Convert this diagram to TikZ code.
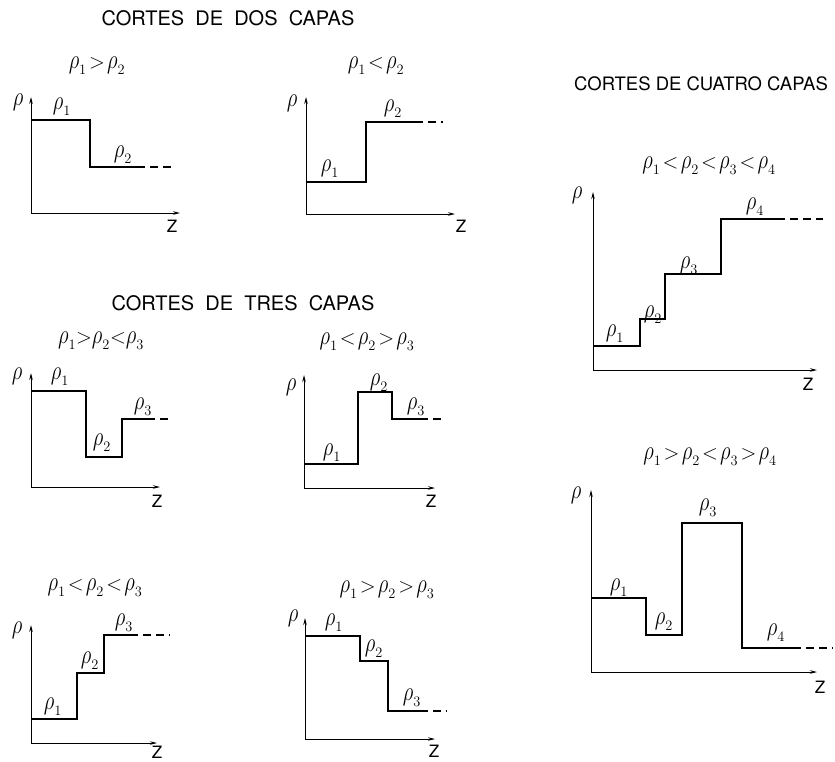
\documentclass[tikz,border=0pt]{standalone}
\usepackage{fontspec}
\setmainfont{TeX Gyre Heros}
\usepackage{tikz}
\usetikzlibrary{arrows.meta,positioning}
\newcommand{\crho}{\mathord{\scalebox{1}[1.3]{$\rho$}}}
\newcommand{\crel}[1]{$\thickmuskip=2mu #1$}
\tikzset{
  cthead/.style={font=\fontsize{20}{22}\selectfont, inner sep=0pt},
  ctrel/.style={font=\fontsize{21}{23}\selectfont, inner sep=0pt},
  ctlab/.style={font=\fontsize{20}{22}\selectfont, inner sep=0pt},
  ctz/.style={font=\fontsize{17}{19}\selectfont, inner sep=0pt},
  ctaxis/.style={-{Stealth[length=7pt,width=3.5pt]}, line width=0.75pt},
  ctstep/.style={line width=1.8pt},
  cttail/.style={line width=1.8pt, dash pattern=on 8pt off 5pt}
}
\begin{document}
\begin{tikzpicture}[x=1pt,y=-1pt]
\useasboundingbox (0,0) rectangle (835,761);
\node[cthead] (dos) at (228,18) {CORTES\ \ DE\ \ DOS\ \ CAPAS};
\node[cthead] (tres) at (243,303) {CORTES\ \ DE\ \ TRES\ \ CAPAS};
\node[cthead, font=\fontsize{18.5}{20}\selectfont] (cuatro) at (701,84) {CORTES DE CUATRO CAPAS};

\node[ctrel] (ra) at (97,66) {\crel{\crho_1>\crho_2}};
\coordinate (oa) at (31,213);
\draw[ctaxis] (oa) -- (31,97);
\draw[ctaxis] (oa) -- (180,213);
\node[ctlab] (ya) at (18,102) {$\crho$};
\node[ctz] (za) at (172,226) {Z};
\draw[ctstep] (31,120) -- (90,120) -- (90,167) -- (137,167);
\draw[cttail] (137,167) -- (172,167);
\node[ctlab] (a1) at (62,107) {$\crho_1$};
\node[ctlab] (a2) at (123,155) {$\crho_2$};

\node[ctrel] (rb) at (376,66) {\crel{\crho_1<\crho_2}};
\coordinate (ob) at (306,214);
\draw[ctaxis] (ob) -- (306,97);
\draw[ctaxis] (ob) -- (455,214);
\node[ctlab] (yb) at (292,103) {$\crho$};
\node[ctz] (zb) at (461,226) {Z};
\draw[ctstep] (306,182) -- (366,182) -- (366,122) -- (415,122);
\draw[cttail] (415,122) -- (443,122);
\node[ctlab] (b1) at (330,169) {$\crho_1$};
\node[ctlab] (b2) at (393,109) {$\crho_2$};

\node[ctrel] (rc) at (101,341) {\crel{\crho_1{>}\crho_2{<}\crho_3}};
\coordinate (oc) at (31,487);
\draw[ctaxis] (oc) -- (31,373);
\draw[ctaxis] (oc) -- (160,487);
\node[ctlab] (yc) at (17,376) {$\crho$};
\node[ctz] (zc) at (157,501) {Z};
\draw[ctstep] (31,391) -- (86,391) -- (86,457) -- (122,457) -- (122,419) -- (147,419);
\draw[cttail] (147,419) -- (170,419);
\node[ctlab] (c1) at (60,377) {$\crho_1$};
\node[ctlab] (c2) at (102,443) {$\crho_2$};
\node[ctlab] (c3) at (143,407) {$\crho_3$};

\node[ctrel] (rd) at (367,342) {\crel{\crho_1<\crho_2>\crho_3}};
\coordinate (od) at (304,488);
\draw[ctaxis] (od) -- (304,375);
\draw[ctaxis] (od) -- (435,488);
\node[ctlab] (yd) at (291,387) {$\crho$};
\node[ctz] (zd) at (431,501) {Z};
\draw[ctstep] (304,464) -- (358,464) -- (358,392) -- (392,392) -- (392,419) -- (420,419);
\draw[cttail] (420,419) -- (445,419);
\node[ctlab] (d1) at (332,453) {$\crho_1$};
\node[ctlab] (d2) at (379,383) {$\crho_2$};
\node[ctlab] (d3) at (416,407) {$\crho_3$};

\node[ctrel] (re) at (95,588) {\crel{\crho_1<\crho_2<\crho_3}};
\coordinate (oe) at (31,743);
\draw[ctaxis] (oe) -- (31,625);
\draw[ctaxis] (oe) -- (157,743);
\node[ctlab] (ye) at (17,630) {$\crho$};
\node[ctz] (ze) at (157,752) {Z};
\draw[ctstep] (31,719) -- (77,719) -- (77,673) -- (104,673) -- (104,635) -- (130,635);
\draw[cttail] (130,635) -- (170,635);
\node[ctlab] (e1) at (53,707) {$\crho_1$};
\node[ctlab] (e2) at (90,661) {$\crho_2$};
\node[ctlab] (e3) at (124,623) {$\crho_3$};

\node[ctrel] (rf) at (387,590) {\crel{\crho_1>\crho_2>\crho_3}};
\coordinate (of) at (305,739);
\draw[ctaxis] (of) -- (305,618);
\draw[ctaxis] (of) -- (435,739);
\node[ctlab] (yf) at (293,618) {$\crho$};
\node[ctz] (zf) at (434,751) {Z};
\draw[ctstep] (305,636) -- (360,636) -- (360,661) -- (388,661) -- (388,711) -- (420,711);
\draw[cttail] (420,711) -- (447,711);
\node[ctlab] (f1) at (334,623) {$\crho_1$};
\node[ctlab] (f2) at (374,649) {$\crho_2$};
\node[ctlab] (f3) at (412,698) {$\crho_3$};

\node[ctrel] (rg) at (709,166) {\crel{\crho_1<\crho_2<\crho_3<\crho_4}};
\coordinate (og) at (593,370);
\draw[ctaxis] (og) -- (593,192);
\draw[ctaxis] (og) -- (817,370);
\node[ctlab] (yg) at (577,195) {$\crho$};
\node[ctz] (zg) at (808,384) {Z};
\draw[ctstep] (593,346) -- (640,346) -- (640,319) -- (665,319) -- (665,274) -- (721,274) -- (721,219) -- (777,219);
\draw[cttail] (777,219) -- (823,219);
\node[ctlab] (g1) at (615,334) {$\crho_1$};
\node[ctlab] (g2) at (653,315) {$\crho_2$};
\node[ctlab] (g3) at (689,266) {$\crho_3$};
\node[ctlab] (g4) at (755,207) {$\crho_4$};

\node[ctrel] (rh) at (710,457) {\crel{\crho_1>\crho_2<\crho_3>\crho_4}};
\coordinate (oh) at (591,672);
\draw[ctaxis] (oh) -- (591,490);
\draw[ctaxis] (oh) -- (817,672);
\node[ctlab] (yh) at (576,495) {$\crho$};
\node[ctz] (zh) at (820,687) {Z};
\draw[ctstep] (591,598) -- (646,598) -- (646,635) -- (682,635) -- (682,523) -- (742,523) -- (742,648) -- (793,648);
\draw[cttail] (793,648) -- (833,648);
\node[ctlab] (h1) at (619,588) {$\crho_1$};
\node[ctlab] (h2) at (664,622) {$\crho_2$};
\node[ctlab] (h3) at (708,508) {$\crho_3$};
\node[ctlab] (h4) at (776,633) {$\crho_4$};
\end{tikzpicture}
\end{document}
